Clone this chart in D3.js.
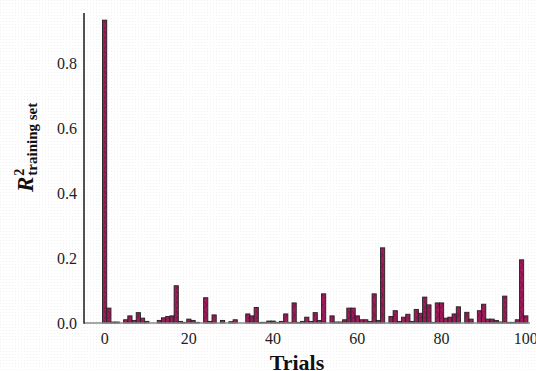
<!DOCTYPE html>
<html>
<head>
<meta charset="utf-8">
<script src="https://cdn.jsdelivr.net/npm/d3@7"></script>
<style>
  body { margin: 0; background: #fff; }
  svg { display: block; font-family: "Liberation Serif", "Times New Roman", serif; }
</style>
</head>
<body>
<figure id="bars" style="margin:0"></figure>
<script>
// R2 on the training set, one value per trial (0..100)
const r2Values = [
  0.935, 0.046, 0.003, 0.003, 0.000, 0.010, 0.022, 0.008, 0.032, 0.015,
  0.005, 0.000, 0.000, 0.008, 0.016, 0.020, 0.022, 0.115, 0.005, 0.002,
  0.012, 0.008, 0.002, 0.000, 0.078, 0.005, 0.025, 0.000, 0.008, 0.000,
  0.004, 0.010, 0.000, 0.000, 0.028, 0.022, 0.048, 0.002, 0.002, 0.006,
  0.006, 0.002, 0.005, 0.028, 0.002, 0.062, 0.002, 0.005, 0.018, 0.005,
  0.032, 0.008, 0.090, 0.000, 0.022, 0.003, 0.003, 0.010, 0.046, 0.046,
  0.022, 0.010, 0.010, 0.005, 0.090, 0.008, 0.232, 0.000, 0.020, 0.038,
  0.005, 0.018, 0.027, 0.005, 0.042, 0.030, 0.080, 0.056, 0.002, 0.062,
  0.062, 0.015, 0.018, 0.028, 0.050, 0.000, 0.033, 0.012, 0.000, 0.038,
  0.058, 0.012, 0.012, 0.008, 0.003, 0.083, 0.002, 0.002, 0.010, 0.195,
  0.022
];
const trials = r2Values.map((v, i) => i);
const xTicks = [0, 20, 40, 60, 80, 100];
const yTicks = [0.0, 0.2, 0.4, 0.6, 0.8];

const width = 536, height = 371;
const plotLeft = 84, plotRight = 530, plotTop = 13, plotBottom = 323;

const svg = d3.select("figure#bars")
  .append("svg")
  .attr("width", width)
  .attr("height", height);

const defs = svg.append("defs");

// faint dotted paper texture
const dots = defs.append("pattern")
  .attr("id", "dots")
  .attr("width", 3).attr("height", 3)
  .attr("patternUnits", "userSpaceOnUse");
dots.append("rect").attr("width", 1).attr("height", 1).attr("fill", "#f1f1f1");

// sparse crosshatch fill used by the bars
const hatch = defs.append("pattern")
  .attr("id", "hatch")
  .attr("width", 4).attr("height", 10)
  .attr("patternUnits", "userSpaceOnUse");
hatch.append("rect").attr("width", 4).attr("height", 10).attr("fill", "#a01a5c");
hatch.append("path")
  .attr("d", "M0,1 L3,5 L0,9")
  .attr("fill", "none")
  .attr("stroke", "#3a0a20")
  .attr("stroke-opacity", 0.75)
  .attr("stroke-width", 0.6);

svg.append("rect")
  .attr("width", width).attr("height", height)
  .attr("fill", "url(#dots)");

const x = d3.scaleLinear()
  .domain([-4.9, 101])
  .range([plotLeft, plotRight]);

const y = d3.scaleLinear()
  .domain([0, 0.957])
  .range([plotBottom, plotTop]);

const bw = x(1) - x(0);

// bars
svg.selectAll("rect.bar")
  .data(trials)
  .enter()
  .append("rect")
  .attr("class", "bar")
  .attr("x", d => x(d) - bw / 2)
  .attr("y", d => y(r2Values[d]))
  .attr("width", bw)
  .attr("height", d => plotBottom - y(r2Values[d]))
  .attr("fill", "url(#hatch)")
  .attr("stroke", "#222")
  .style("stroke-width", "0.9px");

// baseline
svg.append("line")
  .attr("x1", plotLeft).attr("x2", x(101))
  .attr("y1", plotBottom).attr("y2", plotBottom)
  .attr("stroke", "#8a8a8a")
  .attr("stroke-width", 1.5);

// left axis
svg.append("line")
  .attr("x1", plotLeft).attr("x2", plotLeft)
  .attr("y1", plotTop).attr("y2", plotBottom + 0.75)
  .attr("stroke", "#1a1a1a")
  .attr("stroke-width", 1.5);

// tick labels
svg.selectAll("text.ytick")
  .data(yTicks)
  .enter()
  .append("text")
  .attr("class", "ytick")
  .attr("x", 77)
  .attr("y", d => y(d) + 5.5)
  .attr("text-anchor", "end")
  .style("font-size", "16px")
  .attr("fill", "#222")
  .text(d => d.toFixed(1));

svg.selectAll("text.xtick")
  .data(xTicks)
  .enter()
  .append("text")
  .attr("class", "xtick")
  .attr("x", d => x(d))
  .attr("y", 344)
  .attr("text-anchor", "middle")
  .style("font-size", "16px")
  .attr("fill", "#222")
  .text(d => d);

// axis titles
svg.append("text")
  .attr("x", 297)
  .attr("y", 370)
  .attr("text-anchor", "middle")
  .style("font-size", "22px")
  .style("font-weight", "bold")
  .attr("fill", "#111")
  .text("Trials");

const yl = svg.append("g")
  .attr("transform", "translate(33,192) rotate(-90)")
  .attr("fill", "#111")
  .style("font-weight", "bold");
const rText = yl.append("text")
  .attr("x", 0).attr("y", 0)
  .style("font-size", "23px")
  .style("font-style", "italic")
  .text("R");
const rw = rText.node().getComputedTextLength();
yl.append("text")
  .attr("x", rw + 1).attr("y", -9)
  .style("font-size", "14px")
  .text("2");
yl.append("text")
  .attr("x", rw + 1).attr("y", 4)
  .style("font-size", "15px")
  .text("training set");
</script>
</body>
</html>
